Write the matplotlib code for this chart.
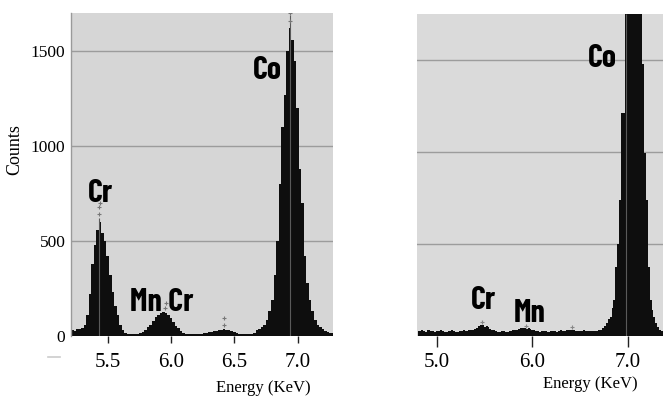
import numpy as np
import matplotlib
matplotlib.use("Agg")
import matplotlib.pyplot as plt
from matplotlib.lines import Line2D

# espectro izquierdo: canales de 0.02 keV desde 5.20
e0_izq = 5.20
paso = 0.02
cuentas_izq = [
    30, 32, 28, 35, 38,
    40, 60, 110, 220, 380, 480, 560, 600, 540, 500, 420, 320, 230, 160, 110, 60, 30, 15,
    10, 8, 8, 10, 12, 15,
    20, 30, 45, 60, 80, 100, 110, 120, 125, 120, 110, 95, 75, 55, 40, 25, 15, 10,
    8, 8, 10, 10, 12, 12, 15, 18, 20, 22, 25, 28, 30, 32, 35, 32, 30, 28, 22, 15, 10, 8, 8, 10, 10, 12, 15,
    30, 38, 45, 60, 85, 130, 190, 320, 500, 800, 1100, 1270, 1500, 1620, 1560, 1450, 1200,
    880, 700, 420, 280, 190, 130, 85, 60, 45, 35, 28, 22, 18, 15,
]

# espectro derecho: canales de 0.02 keV desde 4.80
e0_der = 4.80
cuentas_der = [
    25, 28, 30, 27, 24, 30, 33, 28, 25, 22, 26,
    28, 30, 26, 24, 22, 25, 28, 30, 27, 24, 22, 25, 27, 30, 28, 26, 30, 35, 33, 38,
    45, 55, 60, 58, 50, 55, 48, 40, 35, 30,
    26, 24, 22, 25, 27, 24, 22, 26, 28, 30,
    32, 35, 38, 42, 45, 43, 40, 42, 38, 33,
    30, 28, 25, 24, 26, 28, 25, 22, 24, 26,
    28, 25, 24, 27, 30, 28, 26, 30, 32, 35,
    33, 30, 28, 26, 25, 27, 30, 28, 26, 25,
    27, 28, 26, 28,
    30, 35, 45, 55, 70, 90, 105, 150, 195, 375, 500, 740, 1210, 1210,
    2600, 2800, 2800, 2700, 2600, 2400, 2200, 2000, 1800, 1480, 995, 740,
    375, 195, 140, 105, 70, 50, 35, 25, 20,
]

# puntos grises sobre los picos
marcas_izq_x = [5.43, 5.43, 5.44, 5.95, 5.96, 6.42, 6.42, 6.94, 6.94]
marcas_izq_y = [640, 680, 700, 150, 175, 60, 95, 1660, 1700]
marcas_der_x = [5.47, 5.93, 6.42]
marcas_der_y = [75, 55, 50]

# lineas de marcador (energia, altura)
lineas_izq_x = [5.43, 6.94]
lineas_izq_h = [620, 1690]
lineas_der_x = [6.98]
lineas_der_h = [1750]

etiquetas_izq = [("Co", 6.76, 1400), ("Cr", 5.44, 750), ("Mn Cr", 5.93, 175)]
etiquetas_der = [("Co", 6.73, 1510), ("Cr", 5.49, 195), ("Mn", 5.97, 125)]

ticks_izq = [5.5, 6.0, 6.5, 7.0]
ticks_der = [5.0, 6.0, 7.0]
yticks = [0, 500, 1000, 1500]

serif = ["Liberation Serif", "DejaVu Serif"]
estrecha = ["Barlow Condensed", "DejaVu Sans"]

fig = plt.figure(figsize=(6.63, 3.96), dpi=100)
ax1 = fig.add_axes([71 / 663, 1 - 336 / 396, 262 / 663, 323 / 396])
ax2 = fig.add_axes([417 / 663, 1 - 336 / 396, 246 / 663, 322 / 396])


def dibujar(ax, e0, cuentas, fondo):
    cuentas = np.array(cuentas, dtype=float)
    energias = e0 + paso * np.arange(len(cuentas))
    ax.set_facecolor(fondo)
    for y in yticks[1:]:
        ax.axhline(y, color="#9c9c9c", lw=1.0, zorder=1)
    ax.fill_between(energias, 0, cuentas, step="mid", color="#0e0e0e", lw=0, zorder=2)
    for s in ["top", "right", "bottom"]:
        ax.spines[s].set_visible(False)


def etiquetar(ax, etiquetas):
    for txt, x, y in etiquetas:
        ax.text(x, y, txt, family=estrecha, fontweight="bold", fontsize=23,
                ha="center", va="center", color="black", zorder=4)


dibujar(ax1, e0_izq, cuentas_izq, "#d6d6d6")
ax1.set_xlim(5.21, 7.28)
ax1.set_ylim(0, 1700)
ax1.spines["left"].set_color("#9a9a9a")
ax1.spines["left"].set_linewidth(1.0)
ax1.set_xticks(ticks_izq)
ax1.set_xticklabels([f"{t:.1f}" for t in ticks_izq], family=serif, fontsize=15)
ax1.set_yticks(yticks)
ax1.set_yticklabels([str(t) for t in yticks], family=serif, fontsize=12.5)
ax1.tick_params(axis="x", direction="out", length=5, width=1, color="#222", pad=7)
ax1.tick_params(axis="y", length=0, pad=4)
ax1.vlines(lineas_izq_x, 0, lineas_izq_h, color="#5a5a5a", lw=0.8, zorder=3)
ax1.scatter(marcas_izq_x, marcas_izq_y, marker="+", s=10, color="#777", lw=0.8, zorder=3)
etiquetar(ax1, etiquetas_izq)
ax1.text(0.733, -0.16, "Energy (KeV)", transform=ax1.transAxes, family=serif,
         fontsize=12, ha="center", va="center")

dibujar(ax2, e0_der, cuentas_der, "#dadada")
ax2.set_xlim(4.79, 7.37)
ax2.set_ylim(0, 1750)
ax2.spines["left"].set_visible(False)
ax2.set_yticks([])
ax2.set_xticks(ticks_der)
ax2.set_xticklabels([f"{t:.1f}" for t in ticks_der], family=serif, fontsize=15)
ax2.tick_params(axis="x", direction="out", length=8, width=1, color="#222", pad=4)
ax2.vlines(lineas_der_x, 0, lineas_der_h, color="#5a5a5a", lw=0.8, zorder=3)
ax2.scatter(marcas_der_x, marcas_der_y, marker="+", s=8, color="#888", lw=0.8, zorder=3)
etiquetar(ax2, etiquetas_der)
ax2.text(0.703, -0.15, "Energy (KeV)", transform=ax2.transAxes, family=serif,
         fontsize=12, ha="center", va="center")

fig.text(15 / 663, 1 - 150 / 396, "Counts", rotation=90, family=serif,
         fontsize=13, ha="center", va="center")
fig.add_artist(Line2D([48 / 663, 60 / 663], [1 - 357 / 396] * 2, color="#cccccc", lw=1.2))

fig.savefig("out.png", dpi=100)
